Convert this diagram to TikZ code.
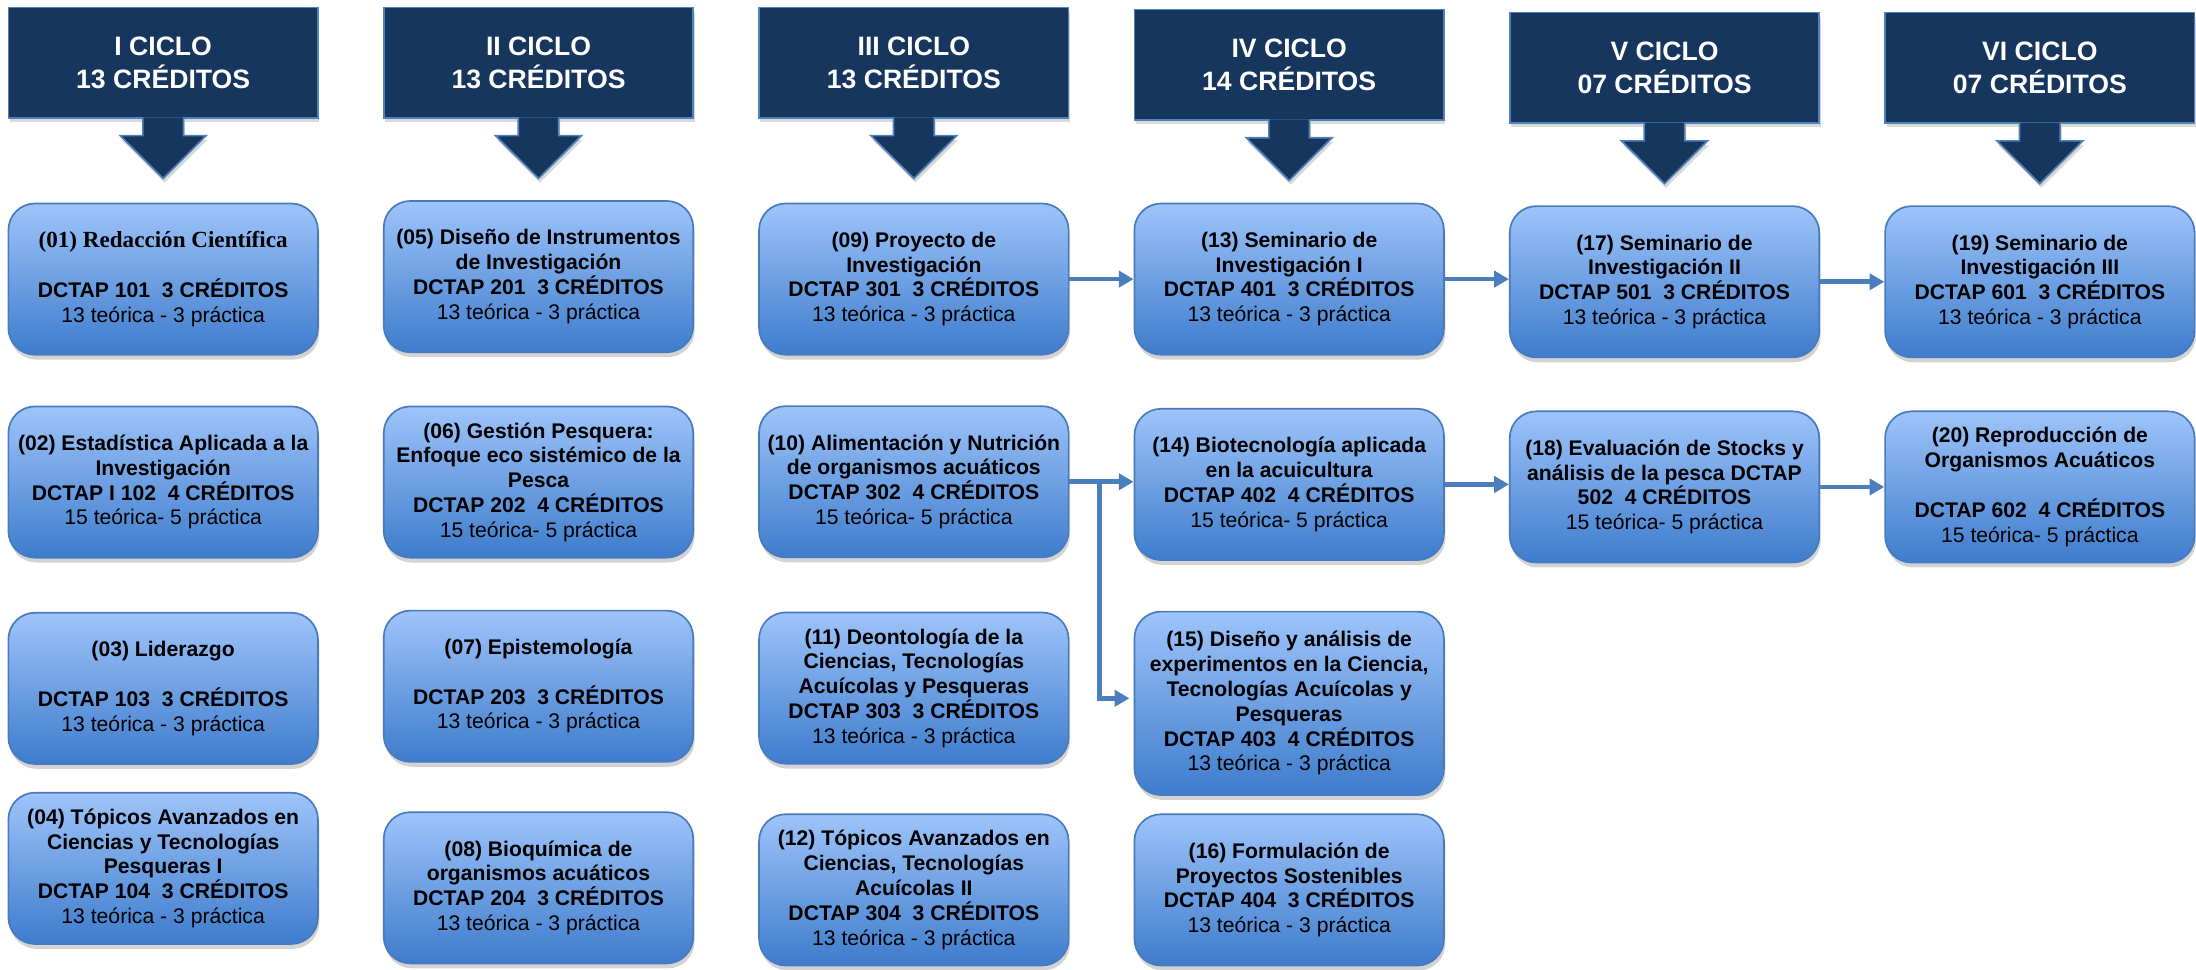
\documentclass[tikz,border=0pt]{standalone}
\usepackage{fontspec}
\setmainfont{Liberation Sans}
\newfontfamily\redfont{Liberation Serif}
\usetikzlibrary{arrows.meta,shadows}
\definecolor{navy}{RGB}{23,54,93}
\definecolor{navyedge}{RGB}{79,129,189}
\definecolor{boxtop}{RGB}{158,196,250}
\definecolor{boxbottom}{RGB}{62,124,204}
\definecolor{boxedge}{RGB}{72,122,190}
\definecolor{linkblue}{RGB}{74,126,188}
\tikzset{
  ciclo/.style={draw=navyedge, line width=1.2, fill=navy, minimum width=221, minimum height=79, text=white, align=center, font=\fontsize{19}{23.5}\selectfont\bfseries, drop shadow={shadow xshift=1pt, shadow yshift=-3pt, opacity=.3}},
  cicloarrow/.style={draw=navyedge, line width=1.2, fill=navy, drop shadow={shadow xshift=1pt, shadow yshift=-3pt, opacity=.3}},
  course/.style={draw=boxedge, line width=1.2, rounded corners=19, top color=boxtop, bottom color=boxbottom, minimum width=221, minimum height=108, inner sep=2, align=center, font=\fontsize{15.1}{17.7}\selectfont\bfseries, drop shadow={shadow xshift=1pt, shadow yshift=-3.5pt, opacity=.35}},
  link/.style={draw=linkblue, line width=3.4, -{Triangle[length=10.5pt,width=11.5pt]}}
}
\begin{document}
\begin{tikzpicture}[x=1pt, y=-1pt]
\useasboundingbox (0,0) rectangle (1568,692);
\node[ciclo] (h1) at (116.5,44.75) {I CICLO\\13 CRÉDITOS};
\draw[cicloarrow] ([xshift=-14.5pt,yshift=1pt]h1.south) -- ++(0,13) -- ++(-16.2,0) -- ++(30.7,30.6) -- ++(30.7,-30.6) -- ++(-16.2,0) -- ++(0,-13);
\node[ciclo] (h2) at (384.5,44.75) {II CICLO\\13 CRÉDITOS};
\draw[cicloarrow] ([xshift=-14.5pt,yshift=1pt]h2.south) -- ++(0,13) -- ++(-16.2,0) -- ++(30.7,30.6) -- ++(30.7,-30.6) -- ++(-16.2,0) -- ++(0,-13);
\node[ciclo] (h3) at (652.5,44.75) {III CICLO\\13 CRÉDITOS};
\draw[cicloarrow] ([xshift=-14.5pt,yshift=1pt]h3.south) -- ++(0,13) -- ++(-16.2,0) -- ++(30.7,30.6) -- ++(30.7,-30.6) -- ++(-16.2,0) -- ++(0,-13);
\node[ciclo] (h4) at (920.5,46.2) {IV CICLO\\14 CRÉDITOS};
\draw[cicloarrow] ([xshift=-14.5pt,yshift=1pt]h4.south) -- ++(0,13) -- ++(-16.2,0) -- ++(30.7,30.6) -- ++(30.7,-30.6) -- ++(-16.2,0) -- ++(0,-13);
\node[ciclo] (h5) at (1188.5,48.5) {V CICLO\\07 CRÉDITOS};
\draw[cicloarrow] ([xshift=-14.5pt,yshift=1pt]h5.south) -- ++(0,13) -- ++(-16.2,0) -- ++(30.7,30.6) -- ++(30.7,-30.6) -- ++(-16.2,0) -- ++(0,-13);
\node[ciclo] (h6) at (1456.5,48.5) {VI CICLO\\07 CRÉDITOS};
\draw[cicloarrow] ([xshift=-14.5pt,yshift=1pt]h6.south) -- ++(0,13) -- ++(-16.2,0) -- ++(30.7,30.6) -- ++(30.7,-30.6) -- ++(-16.2,0) -- ++(0,-13);
\node[course] (c01) at (116.5,199.3) {{\redfont\fontsize{16.5}{17.7}\selectfont (01) Redacción Científica}\\~\\DCTAP 101~~3 CRÉDITOS\\{\mdseries 13 teórica - 3 práctica}};
\node[course] (c02) at (116.5,344.2) {(02) Estadística Aplicada a la\\Investigación\\DCTAP I 102~~4 CRÉDITOS\\{\mdseries 15 teórica- 5 práctica}};
\node[course] (c03) at (116.5,491.5) {(03) Liderazgo\\~\\DCTAP 103~~3 CRÉDITOS\\{\mdseries 13 teórica - 3 práctica}};
\node[course] (c04) at (116.5,620) {(04) Tópicos Avanzados en\\Ciencias y Tecnologías\\Pesqueras I\\DCTAP 104~~3 CRÉDITOS\\{\mdseries 13 teórica - 3 práctica}};
\node[course] (c05) at (384.5,197.5) {(05) Diseño de Instrumentos\\de Investigación\\DCTAP 201~~3 CRÉDITOS\\{\mdseries 13 teórica - 3 práctica}};
\node[course] (c06) at (384.5,344.2) {(06) Gestión Pesquera:\\Enfoque eco sistémico de la\\Pesca\\DCTAP 202~~4 CRÉDITOS\\{\mdseries 15 teórica- 5 práctica}};
\node[course] (c07) at (384.5,490) {(07) Epistemología\\~\\DCTAP 203~~3 CRÉDITOS\\{\mdseries 13 teórica - 3 práctica}};
\node[course] (c08) at (384.5,633.9) {(08) Bioquímica de\\organismos acuáticos\\DCTAP 204~~3 CRÉDITOS\\{\mdseries 13 teórica - 3 práctica}};
\node[course] (c09) at (652.5,199.3) {(09) Proyecto de\\Investigación\\DCTAP 301~~3 CRÉDITOS\\{\mdseries 13 teórica - 3 práctica}};
\node[course] (c10) at (652.5,344) {(10) Alimentación y Nutrición\\de organismos acuáticos\\DCTAP 302~~4 CRÉDITOS\\{\mdseries 15 teórica- 5 práctica}};
\node[course] (c11) at (652.5,491.3) {(11) Deontología de la\\Ciencias, Tecnologías\\Acuícolas y Pesqueras\\DCTAP 303~~3 CRÉDITOS\\{\mdseries 13 teórica - 3 práctica}};
\node[course] (c12) at (652.5,635.4) {(12) Tópicos Avanzados en\\Ciencias, Tecnologías\\Acuícolas II\\DCTAP 304~~3 CRÉDITOS\\{\mdseries 13 teórica - 3 práctica}};
\node[course] (c13) at (920.5,199.3) {(13) Seminario de\\Investigación I\\DCTAP 401~~3 CRÉDITOS\\{\mdseries 13 teórica - 3 práctica}};
\node[course] (c14) at (920.5,345.9) {(14) Biotecnología aplicada\\en la acuicultura\\DCTAP 402~~4 CRÉDITOS\\{\mdseries 15 teórica- 5 práctica}};
\node[course, minimum height=131] (c15) at (920.5,502.2) {(15) Diseño y análisis de\\experimentos en la Ciencia,\\Tecnologías Acuícolas y\\Pesqueras\\DCTAP 403~~4 CRÉDITOS\\{\mdseries 13 teórica - 3 práctica}};
\node[course] (c16) at (920.5,635.4) {(16) Formulación de\\Proyectos Sostenibles\\DCTAP 404~~3 CRÉDITOS\\{\mdseries 13 teórica - 3 práctica}};
\node[course] (c17) at (1188.5,201.2) {(17) Seminario de\\Investigación II\\DCTAP 501~~3 CRÉDITOS\\{\mdseries 13 teórica - 3 práctica}};
\node[course] (c18) at (1188.5,347.7) {(18) Evaluación de Stocks y\\análisis de la pesca DCTAP\\502~~4 CRÉDITOS\\{\mdseries 15 teórica- 5 práctica}};
\node[course] (c19) at (1456.5,201.2) {(19) Seminario de\\Investigación III\\DCTAP 601~~3 CRÉDITOS\\{\mdseries 13 teórica - 3 práctica}};
\node[course] (c20) at (1456.5,347.7) {(20) Reproducción de\\Organismos Acuáticos\\~\\DCTAP 602~~4 CRÉDITOS\\{\mdseries 15 teórica- 5 práctica}};
\draw[link] (c09) -- (c13);
\draw[link] (c13.east) -- (c13.east -| c17.west);
\draw[link] (c17) -- (c19);
\draw[link] (c10.east) -- (c10.east -| c14.west);
\draw[link] (c14.east) -- (c14.east -| c18.west);
\draw[link] (c18) -- (c20);
\coordinate (fork) at ([xshift=21.5pt]c10.east);
\draw[link, shorten >=3pt] (fork) |- ([yshift=3.6pt]c15.west);
\end{tikzpicture}
\end{document}
